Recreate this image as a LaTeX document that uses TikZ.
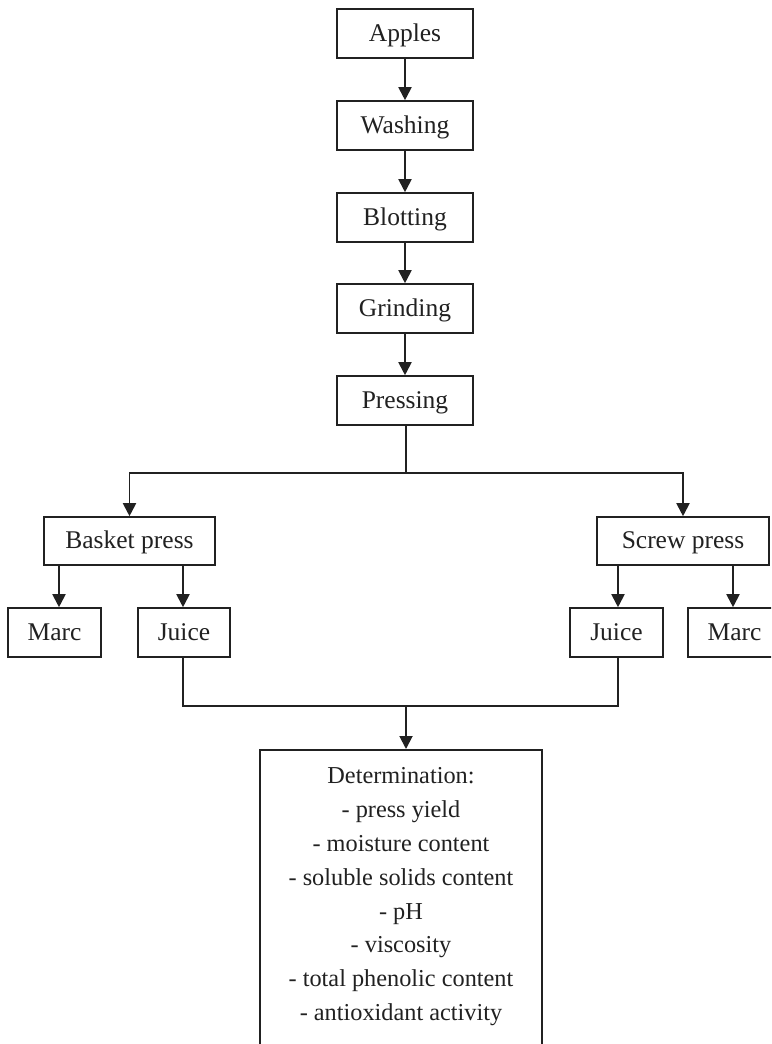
\documentclass[tikz,border=0pt]{standalone}
\usepackage{fontspec}
\setmainfont{Liberation Serif}
\usetikzlibrary{arrows.meta}
\begin{document}
\begin{tikzpicture}[x=1pt,y=-1pt,
  box/.style={draw=black!87, line width=1.6pt, minimum height=49pt, inner sep=0pt,
    font=\fontsize{25.5}{30}\selectfont, text height=17pt, text depth=2pt, text=black!87},
  arr/.style={draw=black!87, line width=1.9pt, -{Triangle[length=13pt,width=13pt]}},
  ln/.style={draw=black!87, line width=1.6pt}]
\useasboundingbox (0,0) rectangle (771,1044);
\clip (0,0) rectangle (771,1044);
\fill[white] (0,0) rectangle (771,1044);
% main chain
\node[box, minimum width=136pt] (apples) at (405,33.5) {Apples};
\node[box, minimum width=136pt] (wash) at (405,125.5) {Washing};
\node[box, minimum width=136pt] (blot) at (405,217.5) {Blotting};
\node[box, minimum width=136pt] (grind) at (405,308.5) {Grinding};
\node[box, minimum width=136pt] (press) at (405,400.5) {Pressing};
% presses
\node[box, minimum width=171pt, minimum height=48pt] (basket) at (129.5,541) {Basket press};
\node[box, minimum width=172pt, minimum height=48pt] (screw) at (683,541) {Screw press};
% outputs
\node[box, minimum width=93pt] (marcL) at (54.5,632.5) {Marc};
\node[box, minimum width=92pt] (juiceL) at (184,632.5) {Juice};
\node[box, minimum width=93pt] (juiceR) at (616.5,632.5) {Juice};
\node[box, minimum width=93pt] (marcR) at (734.5,632.5) {Marc};
% determination
\node[box, anchor=north, minimum width=282pt, text height=, text depth=] (det) at (401,749)
  {\parbox[t][330pt][t]{282pt}{\centering\fontsize{24.3}{33.8}\selectfont
   \rule{0pt}{34pt}Determination:\\
   - press yield\\
   - moisture content\\
   - soluble solids content\\
   - pH\\
   - viscosity\\
   - total phenolic content\\
   - antioxidant activity}};
\coordinate (split) at (406,473);
\coordinate (join) at (406,706);
% connectors
\draw[arr] (apples) -- (wash);
\draw[arr] (wash) -- (blot);
\draw[arr] (blot) -- (grind);
\draw[arr] (grind) -- (press);
\draw[ln] (press.south -| split) -- (split);
\draw[arr] (split) -| (basket.north);
\draw[arr] (split) -| (screw.north);
\draw[arr] (basket.south -| 59,0) -- (marcL.north -| 59,0);
\draw[arr] (basket.south -| 183,0) -- (juiceL.north -| 183,0);
\draw[arr] (screw.south -| 618,0) -- (juiceR.north -| 618,0);
\draw[arr] (screw.south -| 733,0) -- (marcR.north -| 733,0);
\draw[ln] (juiceL.south -| 183,0) |- (join) -| (juiceR.south -| 618,0);
\draw[arr] (join) -- (det.north -| join);
\end{tikzpicture}
\end{document}
